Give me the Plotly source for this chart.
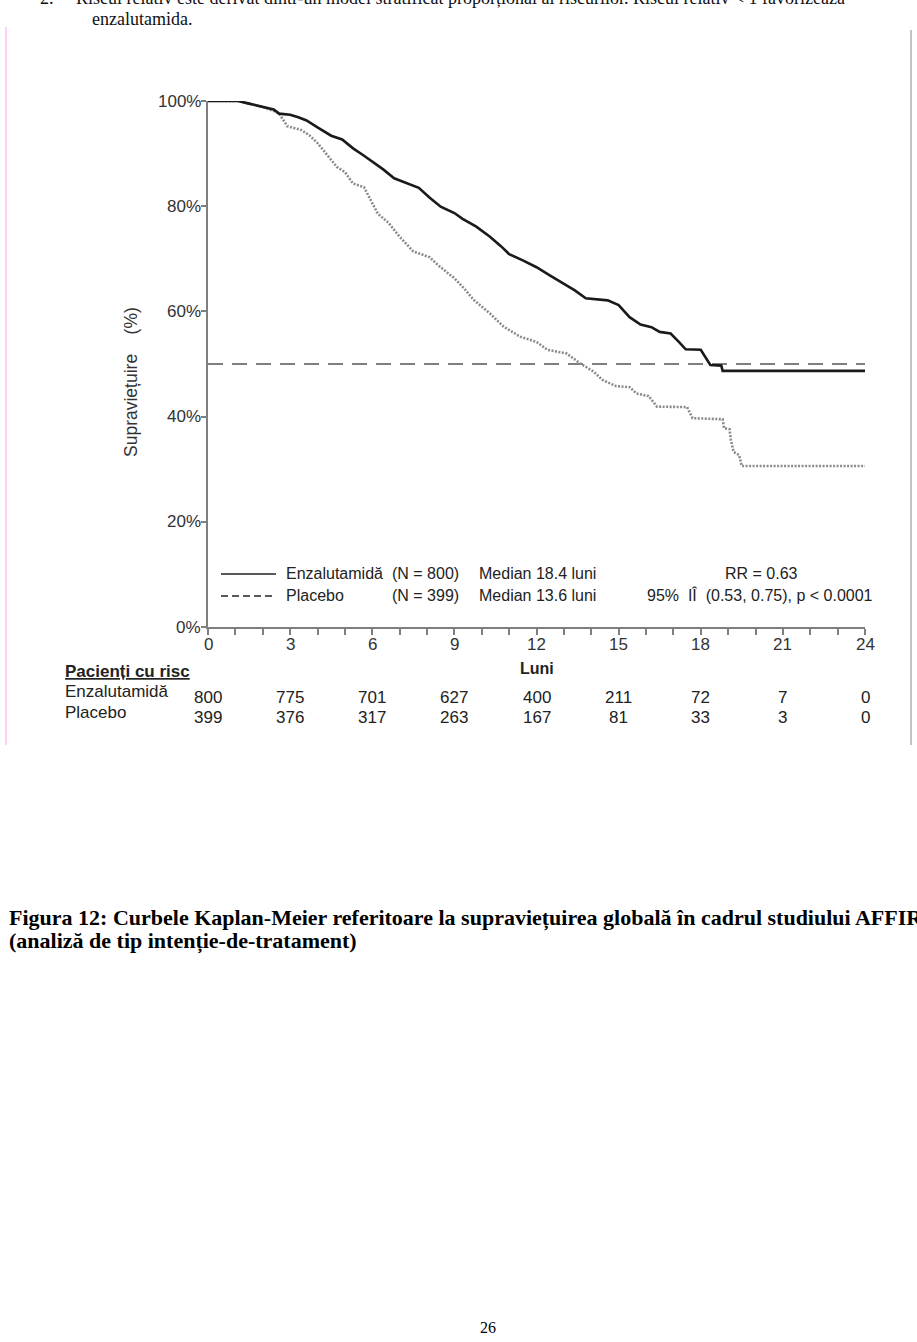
import plotly.graph_objects as go

# ---------------- data ----------------
months_enz = [0, 1.1, 1.5, 2.0, 2.4, 2.6, 3.0, 3.3, 3.6, 4.0, 4.5, 4.9, 5.3, 5.7, 6.0, 6.4, 6.8, 7.3, 7.7,
              8.1, 8.5, 9.0, 9.3, 9.8, 10.3, 10.7, 11.0, 11.5, 12.0, 12.5, 13.0, 13.4, 13.8, 14.6, 15.0,
              15.4, 15.8, 16.2, 16.5, 16.9, 17.2, 17.4, 17.45, 18.0, 18.2, 18.35, 18.75, 18.8, 24.0]
surv_enz = [100, 100, 99.5, 98.9, 98.4, 97.6, 97.4, 96.9, 96.3, 95.0, 93.4, 92.7, 91.0, 89.6, 88.5, 87.0,
            85.3, 84.3, 83.5, 81.6, 79.9, 78.7, 77.6, 76.1, 74.2, 72.4, 70.9, 69.7, 68.4, 66.8, 65.3, 64.0,
            62.5, 62.1, 61.2, 58.9, 57.5, 57.0, 56.1, 55.8, 54.2, 53.0, 52.8, 52.7, 51.1, 49.8, 49.7, 48.7, 48.7]

months_pla = [0, 1.1, 1.5, 2.0, 2.4, 2.6, 2.9, 3.4, 3.7, 4.0, 4.3, 4.7, 5.0, 5.3, 5.7, 6.2, 6.6, 7.0, 7.5,
              8.1, 8.4, 9.0, 9.4, 9.7, 10.3, 10.8, 11.4, 12.0, 12.4, 13.1, 13.6, 14.1, 14.4, 14.9, 15.4,
              15.65, 16.1, 16.4, 17.5, 17.7, 18.8, 18.85, 19.05, 19.1, 19.2, 19.4, 19.5, 24.0]
surv_pla = [100, 100, 99.5, 98.9, 98.1, 97.6, 95.2, 94.5, 93.5, 92.0, 90.1, 87.5, 86.5, 84.3, 83.6, 78.6,
            76.8, 74.2, 71.4, 70.3, 68.8, 66.3, 64.1, 62.2, 59.6, 57.1, 55.2, 54.2, 52.7, 52.0, 50.1, 48.5,
            47.0, 45.8, 45.6, 44.4, 43.9, 41.9, 41.8, 39.7, 39.5, 37.8, 37.6, 35.6, 33.3, 32.7, 30.6, 30.6]

risk_months = [0, 3, 6, 9, 12, 15, 18, 21, 24]
risk_enz = [800, 775, 701, 627, 400, 211, 72, 7, 0]
risk_pla = [399, 376, 317, 263, 167, 81, 33, 3, 0]

y_ticks = [0, 20, 40, 60, 80, 100]
y_tick_labels = ["0%", "20%", "40%", "60%", "80%", "100%"]
x_ticks = list(range(0, 25))
x_label_ticks = [0, 3, 6, 9, 12, 15, 18, 21, 24]

# ---------------- layout helpers ----------------
W, H = 917, 1342
L, R, T, B = 208, 865, 101, 627


def X(px):
    return (px - L) / (R - L)


def Y(py):
    return (B - py) / (B - T)


SANS = "Liberation Sans, Arial, Helvetica, sans-serif"
SERIF = "Liberation Serif, Times New Roman, serif"
TXT = "#222222"

fig = go.Figure()

fig.add_trace(go.Scatter(x=months_pla, y=surv_pla, mode="lines",
                         line=dict(color="#8a8a8a", width=2.6, dash="2px,1.5px"),
                         showlegend=False, hoverinfo="skip"))
fig.add_trace(go.Scatter(x=months_enz, y=surv_enz, mode="lines",
                         line=dict(color="#1a1a1a", width=2.6),
                         showlegend=False, hoverinfo="skip"))

shapes = []
# median 50% line
shapes.append(dict(type="line", xref="x", yref="y", x0=0, x1=24, y0=50, y1=50,
                   line=dict(color="#7f7f7f", width=2, dash="15px,9px"), layer="below"))
# legend samples
shapes.append(dict(type="line", xref="paper", yref="paper", x0=X(221), x1=X(276), y0=Y(574), y1=Y(574),
                   line=dict(color="#222", width=1.6)))
shapes.append(dict(type="line", xref="paper", yref="paper", x0=X(221), x1=X(276), y0=Y(596), y1=Y(596),
                   line=dict(color="#222", width=1.6, dash="7px,4px")))
# page frame lines
shapes.append(dict(type="line", xref="paper", yref="paper", x0=X(6), x1=X(6), y0=Y(27), y1=Y(745),
                   line=dict(color="#ffb0ff", width=1.2)))
shapes.append(dict(type="line", xref="paper", yref="paper", x0=X(911), x1=X(911), y0=Y(30), y1=Y(745),
                   line=dict(color="#9a9a9a", width=1.2)))

ann = []


def text(px, py, s, size=15, family=SANS, anchor="left", color=TXT, angle=0):
    ann.append(dict(x=X(px), y=Y(py), xref="paper", yref="paper", text=s, showarrow=False,
                    xanchor=anchor, yanchor="middle", textangle=angle,
                    font=dict(family=family, size=size, color=color)))


# y-axis title
text(131, 382, "Supraviețuire    (%)", size=17.5, anchor="center", angle=-90, color="#333")

# y tick labels
for v, lab in zip(y_ticks, y_tick_labels):
    ann.append(dict(x=0, y=v, xref="paper", yref="y", xshift=-5, text=lab, showarrow=False,
                    xanchor="right", yanchor="middle",
                    font=dict(family=SANS, size=17, color="#333")))

# x tick labels
for v in x_label_ticks:
    ann.append(dict(x=v, y=Y(644), xref="x", yref="paper", text=str(v), showarrow=False,
                    xanchor="center", yanchor="middle",
                    font=dict(family=SANS, size=17, color="#333")))

# legend texts
text(284, 573, "Enzalutamidă", 16)
text(461, 573, "(N = 800)", 16, anchor="right")
text(477, 573, "Median 18.4 luni", 16)
text(723, 573, "RR = 0.63", 16)
text(284, 595, "Placebo", 16)
text(461, 595, "(N = 399)", 16, anchor="right")
text(477, 595, "Median 13.6 luni", 16)
text(645, 595, "95%  IÎ  (0.53, 0.75), p < 0.0001", 16)

# x-axis title
text(L + (R - L) * 12 / 24, 668, "<b>Luni</b>", 16, anchor="center")

# risk table
text(63, 671, "<b><u>Pacienți cu risc</u></b>", 17)
text(63, 691, "Enzalutamidă", 17)
text(63, 712, "Placebo", 17)
for m, a, b in zip(risk_months, risk_enz, risk_pla):
    ann.append(dict(x=m, y=Y(697), xref="x", yref="paper", text=str(a), showarrow=False,
                    xanchor="center", yanchor="middle", font=dict(family=SANS, size=17, color=TXT)))
    ann.append(dict(x=m, y=Y(717), xref="x", yref="paper", text=str(b), showarrow=False,
                    xanchor="center", yanchor="middle", font=dict(family=SANS, size=17, color=TXT)))

# document text
text(38, -2, "2.     Riscul relativ este derivat dintr-un model stratificat proporțional al riscurilor. Riscul relativ < 1 favorizează",
     18, family=SERIF, color="#111")
text(90, 19, "enzalutamida.", 18, family=SERIF, color="#111")
text(7, 918, "<b>Figura 12: Curbele Kaplan-Meier referitoare la supraviețuirea globală în cadrul studiului AFFIRM</b>",
     22, family=SERIF, color="#000")
text(7, 941, "<b>(analiză de tip intenție-de-tratament)</b>", 22, family=SERIF, color="#000")
text(488, 1327, "26", 16, family=SERIF, anchor="center", color="#000")

fig.update_layout(
    width=W, height=H,
    margin=dict(l=L, r=W - R, t=T, b=H - B, pad=0),
    paper_bgcolor="white", plot_bgcolor="white",
    showlegend=False,
    shapes=shapes, annotations=ann,
    xaxis=dict(range=[0, 24], tickvals=x_ticks, showticklabels=False,
               ticks="outside", ticklen=6, tickwidth=1.5, tickcolor="#7f7f7f",
               showline=True, linecolor="#7f7f7f", linewidth=2,
               showgrid=False, zeroline=False),
    yaxis=dict(range=[0, 100], tickvals=y_ticks, showticklabels=False,
               ticks="outside", ticklen=5, tickwidth=1.5, tickcolor="#7f7f7f",
               showline=True, linecolor="#7f7f7f", linewidth=2,
               showgrid=False, zeroline=False),
)

fig.write_html("out.html")
